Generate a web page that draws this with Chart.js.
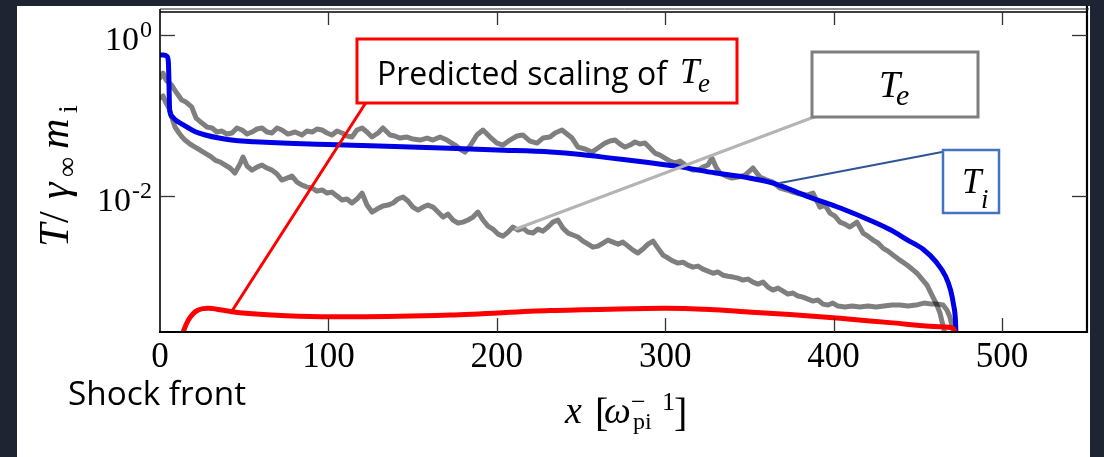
<!DOCTYPE html>
<html><head><meta charset="utf-8">
<script src="https://cdn.jsdelivr.net/npm/chart.js@4.4.1/dist/chart.umd.min.js"></script>
<style>html,body{margin:0;padding:0;background:#1e2431;overflow:hidden}#wrap{width:1104px;height:457px}</style>
</head><body><div id="wrap"><canvas id="c" width="1104" height="457"></canvas></div>
<script>
const xTicks=[0,100,200,300,400,500];
const xTickLabels=['0','100','200','300','400','500'];
const yTicks=[1,0.01];
const yTickBase=['10','10'];
const yTickExp=['0','-2'];

const teUpperX=[0,1.8,3.6,6.9,9.5,12.9,15.4,18.8,21.4,24.9,27.9,30.9,33.8,36.8,39.8,42.8,45.7,48.7,51.7,54.6,57.6,60.6,63.5,66.5,69.5,72.4,76,80.2,84.3,87.3,90.3,93.2,96.2,99.2,102.1,105.1,108.1,111,114,117,120,122.9,125.9,129.5,132.4,136.6,139.5,142.5,146.7,150.2,154.4,158.6,162.1,166.3,170.4,175.2,178.1,181.1,184.1,188.2,191.8,196,200.1,203.7,207.8,212,215.6,219.7,223.9,227.4,231.6,234.6,238.7,241.7,244.7,248.2,252.4,256.5,260.1,264.3,267.2,270.2,273.2,276.1,279.1,282.1,285,288,291,293.9,296.9,299.9,302.9,305.8,308.8,311.2,313.5,316.5,319.5,322.4,325.4,327.8,330.2,332.5,336.1,339.7,343.2,347.4,352.1,356.3,360.4,364,368.2,372.3,375.9,380,384.2,387.8,391.9,394.9,397.9,400.8,403.8,406.8,409.7,413.9,417.5,420.4,423.4,426.4,429.3,432.3,435.3,439.4,443.6,446.6,449.6,452.5,455.5,459,461.4,463.2,465.6,466.7];
const teUpperY=[0.292,0.337,0.276,0.239,0.196,0.156,0.147,0.128,0.0931,0.0807,0.0720,0.0700,0.0624,0.0642,0.0589,0.0607,0.0700,0.0661,0.0589,0.0624,0.0680,0.0700,0.0624,0.0607,0.0700,0.0661,0.0589,0.0624,0.0573,0.0642,0.0624,0.0680,0.0661,0.0607,0.0573,0.0642,0.0607,0.0557,0.0541,0.0661,0.0700,0.0624,0.0541,0.0607,0.0700,0.0573,0.0557,0.0525,0.0541,0.0511,0.0496,0.0525,0.0496,0.0541,0.0496,0.0430,0.0384,0.0352,0.0418,0.0573,0.0661,0.0541,0.0455,0.0430,0.0496,0.0557,0.0573,0.0482,0.0455,0.0525,0.0541,0.0607,0.0661,0.0589,0.0525,0.0406,0.0384,0.0352,0.0395,0.0455,0.0482,0.0496,0.0443,0.0406,0.0430,0.0469,0.0443,0.0455,0.0395,0.0342,0.0323,0.0296,0.0272,0.0257,0.0272,0.0250,0.0223,0.0210,0.0210,0.0229,0.0243,0.0296,0.0229,0.0193,0.0177,0.0167,0.0172,0.0182,0.0223,0.0172,0.0158,0.0149,0.0126,0.0119,0.0112,0.0106,0.0103,0.0109,0.00730,0.00773,0.00615,0.00565,0.00475,0.00449,0.00412,0.00475,0.00347,0.00318,0.00284,0.00261,0.00226,0.00207,0.00185,0.00160,0.00139,0.00124,0.00110,0.000931,0.000784,0.000556,0.000443,0.000352,0.000217,0.00013];

const teLowerX=[0,1.8,3.6,5.3,7.1,8.9,11.3,13.1,14.8,17.8,20.8,23.8,26.7,29.7,32.7,35.6,38.6,41.6,44.5,47.5,49.3,51.7,54.6,57.6,60.6,63.5,66.5,69.5,72.4,75.4,78.4,81.4,84.3,87.3,90.3,93.2,96.2,99.2,102.1,105.1,108.1,111,114,117,120,122.9,125.9,128.9,132.4,135.4,138.4,141.3,144.3,147.3,150.2,153.2,156.2,159.1,162.1,165.1,168.1,171,174,177,179.9,182.9,185.9,188.8,191.8,194.8,197.7,200.7,203.7,206.7,209.6,212.6,215.6,218.5,221.5,224.5,227.4,230.4,233.4,236.3,239.3,242.3,245.2,248.2,251.2,254.2,257.1,260.1,263.1,266,269,272,274.9,277.9,280.9,283.8,286.8,289.8,292.8,295.7,298.7,301.7,304.6,307.6,310.6,313.5,316.5,319.5,322.4,325.4,328.4,331.4,334.3,337.3,340.3,343.2,346.2,349.2,352.1,355.1,358.1,361,364,367,370,372.9,375.9,378.9,381.8,384.8,387.8,390.7,393.7,396.7,399.6,402.6,406.8,411,415.6,420.4,425.2,429.9,434.7,439.4,444.2,448.9,453.7,458.4,462,465,467.3,469.1,470.9,472.1];
const teLowerY=[0.165,0.175,0.143,0.124,0.0931,0.0720,0.0607,0.0541,0.0496,0.0443,0.0406,0.0373,0.0342,0.0314,0.0280,0.0265,0.0243,0.0223,0.0193,0.0250,0.0305,0.0236,0.0210,0.0229,0.0243,0.0223,0.0210,0.0188,0.0158,0.0167,0.0177,0.0149,0.0137,0.0129,0.0126,0.0115,0.0119,0.0109,0.0112,0.0100,0.00892,0.00918,0.00819,0.00918,0.0109,0.00773,0.00633,0.00690,0.00751,0.00773,0.00819,0.00918,0.00972,0.00867,0.00730,0.00670,0.00730,0.00773,0.00730,0.00633,0.00548,0.00597,0.00504,0.00462,0.00475,0.00504,0.00548,0.00633,0.00504,0.00424,0.00389,0.00337,0.00318,0.00357,0.00412,0.00378,0.00400,0.00357,0.00347,0.00389,0.00367,0.00412,0.00475,0.00504,0.00400,0.00347,0.00328,0.00310,0.00276,0.00253,0.00232,0.00239,0.00261,0.00284,0.00268,0.00253,0.00268,0.00239,0.00213,0.00196,0.00220,0.00253,0.00276,0.00226,0.00185,0.00170,0.00156,0.00147,0.00151,0.00139,0.00131,0.00135,0.00124,0.00117,0.00110,0.00114,0.00104,0.00101,0.000986,0.000958,0.000905,0.000931,0.000855,0.000807,0.000855,0.000741,0.000680,0.000720,0.000661,0.000606,0.000624,0.000573,0.000556,0.000525,0.000496,0.000511,0.000455,0.000443,0.000469,0.000430,0.000418,0.000430,0.000418,0.000430,0.000418,0.000430,0.000443,0.000443,0.000430,0.000443,0.000469,0.000455,0.000455,0.000443,0.000384,0.000314,0.000217,0.00013];

const tiX=[0,2,4.3,5.0,5.3,5.6,6.0,7.5,10,13,17,21,27,35,45,56,76,100,130,172,200,232,250,268,290,308,330,347,364,384,404,424,434,444,453,461,466.5,469.5,471.3,472.3,473];
const tiY=[0.565,0.565,0.54,0.45,0.276,0.135,0.110,0.0958,0.0855,0.0784,0.0700,0.0629,0.0573,0.0525,0.0489,0.0473,0.0452,0.0436,0.0418,0.0392,0.0373,0.0352,0.0328,0.0296,0.0261,0.0232,0.0193,0.0172,0.0145,0.0100,0.00710,0.00475,0.00378,0.00284,0.00220,0.00151,0.00101,0.00068,0.000443,0.000305,0.00013];

const predX=[12.5,13.8,16.8,19.8,22.7,25.5,28.7,36.6,42.6,66.3,96,115.8,172.2,231.6,267.2,299.9,326.6,347.4,374.1,403.8,433.5,463.2,470.9,472.7];
const predY=[0.000166,0.000206,0.000288,0.000349,0.000384,0.000400,0.000403,0.000384,0.000366,0.000333,0.000317,0.000317,0.000333,0.000378,0.000394,0.000403,0.000389,0.000366,0.000337,0.000303,0.000268,0.000238,0.000229,0.00019];

const pts=(xs,ys)=>xs.map((x,i)=>({x:x,y:ys[i]}));
const SERIF='"Liberation Serif", "Times New Roman", serif';
const SANS='"Open Sans", "Noto Sans", sans-serif';

function line(c,x1,y1,x2,y2,col,w){c.strokeStyle=col;c.lineWidth=w;c.beginPath();c.moveTo(x1,y1);c.lineTo(x2,y2);c.stroke();}
function fitText(c,str,x,y,font,width){c.font=font;const w=c.measureText(str).width;c.save();c.translate(x,y);c.scale(width/w,1);c.fillText(str,0,0);c.restore();}

const deco={
  id:'deco',
  beforeDraw(chart){const c=chart.ctx;c.save();c.fillStyle='#1e2431';c.fillRect(0,0,1104,457);c.fillStyle='#ffffff';c.fillRect(17,6,1073,451);c.restore();},
  afterDatasetsDraw(chart){
    const c=chart.ctx,a=chart.chartArea,xs=chart.scales.x,ys=chart.scales.y;
    c.save();
    c.lineCap='butt';
    // frame
    line(c,a.left,a.top-2,a.left,a.bottom+1,'#000',1.6);
    line(c,a.left-1,a.bottom,a.right+1,a.bottom,'#000',1.8);
    line(c,a.right,a.top-5,a.right,a.bottom+1,'#000',2.2);
    line(c,a.left,a.top+1,a.right,a.top+1,'#000',1.5);
    line(c,a.left,a.top-2,a.right+2,a.top-2,'#222',1);
    // ticks
    xTicks.forEach(v=>{if(v===0)return;const px=Math.round(xs.getPixelForValue(v))+0.5;
      line(c,px,a.bottom,px,a.bottom-14,'#333',1.3);line(c,px,a.top+1,px,a.top+14,'#333',1.3);});
    yTicks.forEach(v=>{const py=Math.round(ys.getPixelForValue(v))+0.5;
      line(c,a.left,py,a.left+15,py,'#333',1.3);line(c,a.right,py,a.right-15,py,'#333',1.3);});
    // x tick labels
    c.fillStyle='#000';c.textBaseline='alphabetic';c.textAlign='center';
    c.font='35px '+SERIF;
    xTicks.forEach((v,i)=>{c.fillText(xTickLabels[i],xs.getPixelForValue(v),367);});
    // y tick labels
    c.textAlign='left';
    yTicks.forEach((v,i)=>{const py=ys.getPixelForValue(v);
      c.font='34px '+SERIF;const wb=c.measureText(yTickBase[i]).width;
      c.font='24px '+SERIF;const we=c.measureText(yTickExp[i]).width;
      const x0=152-we-wb-1;
      c.font='34px '+SERIF;c.fillText(yTickBase[i],x0,py+14.5);
      c.font='24px '+SERIF;c.fillText(yTickExp[i],x0+wb+1,py+1.5);});
    // y axis title (rotated)
    c.save();c.translate(68,247);c.rotate(-Math.PI/2);
    c.font='italic 42px '+SERIF;c.fillText('T',0,0);
    c.font='42px '+SERIF;c.fillText('/',24,0);
    c.font='italic 42px '+SERIF;c.fillText('\u03b3',48,0);
    c.font='28px '+SERIF;c.fillText('\u221e',70,8);
    c.font='italic 42px '+SERIF;c.fillText('m',98,0);
    c.font='28px '+SERIF;c.fillText('i',134,9);
    c.restore();
    // x axis title
    c.font='italic 38px '+SERIF;c.fillText('x',565,423);
    c.font='40px '+SERIF;c.fillText('[',595,426);
    c.font='italic 38px '+SERIF;c.fillText('\u03c9',604,423);
    c.font='26px '+SERIF;c.fillText('\u2212',631,410);
    c.font='24px '+SERIF;c.fillText('pi',633,429);
    c.font='26px '+SERIF;c.fillText('1',662,410);
    c.font='40px '+SERIF;c.fillText(']',674,426);
    // Shock front
    fitText(c,'Shock front',68,405,'32px '+SANS,178);
    // annotation leaders
    c.lineCap='round';
    line(c,365,104,232,311,'#ff0000',3);
    line(c,814,117,516,229,'#b4b4b4',3);
    line(c,942,152,780,183,'#2f5597',2.2);
    c.lineCap='butt';
    // boxes
    c.fillStyle='#ffffff';
    c.fillRect(357,39,380,64);c.strokeStyle='#ff0000';c.lineWidth=3;c.strokeRect(357,39,380,64);
    c.fillRect(812,52,166,65);c.strokeStyle='#7f7f7f';c.lineWidth=3;c.strokeRect(812,52,166,65);
    c.fillRect(943,150,56,63);c.strokeStyle='#4472c4';c.lineWidth=2.5;c.strokeRect(943,150,56,63);
    c.fillStyle='#000';
    fitText(c,'Predicted scaling of',377,85,'32px '+SANS,290);
    c.font='italic 35px '+SERIF;c.fillText('T',680,83);
    c.font='italic 27px '+SERIF;c.fillText('e',698,92);
    c.font='italic 38px '+SERIF;c.fillText('T',879,97);
    c.font='italic 30px '+SERIF;c.fillText('e',896,105);
    c.font='italic 35px '+SERIF;c.fillText('T',962,193);
    c.font='italic 27px '+SERIF;c.fillText('i',981,208);
    c.restore();
  }
};

new Chart(document.getElementById('c').getContext('2d'),{
  type:'line',
  data:{datasets:[
    {label:'Predicted scaling of Te',data:pts(predX,predY),borderColor:'#ff0000',borderWidth:5,cubicInterpolationMode:'monotone'},
    {label:'Ti',data:pts(tiX,tiY),borderColor:'#0000e6',borderWidth:5,cubicInterpolationMode:'monotone'},
    {label:'Te (upper)',data:pts(teUpperX,teUpperY),borderColor:'rgba(0,0,0,0.5)',borderWidth:5},
    {label:'Te (lower)',data:pts(teLowerX,teLowerY),borderColor:'rgba(0,0,0,0.5)',borderWidth:5}
  ]},
  options:{
    responsive:false,animation:false,devicePixelRatio:1,
    layout:{padding:{left:160,top:11,right:17,bottom:125}},
    elements:{point:{radius:0},line:{tension:0,borderJoinStyle:'round',borderCapStyle:'round',fill:false}},
    datasets:{line:{clip:0}},
    scales:{
      x:{type:'linear',min:0,max:550.5,display:false},
      y:{type:'logarithmic',min:0.000205,max:1.987,display:false}
    },
    plugins:{legend:{display:false},tooltip:{enabled:false}}
  },
  plugins:[deco]
});
</script>
</body></html>
